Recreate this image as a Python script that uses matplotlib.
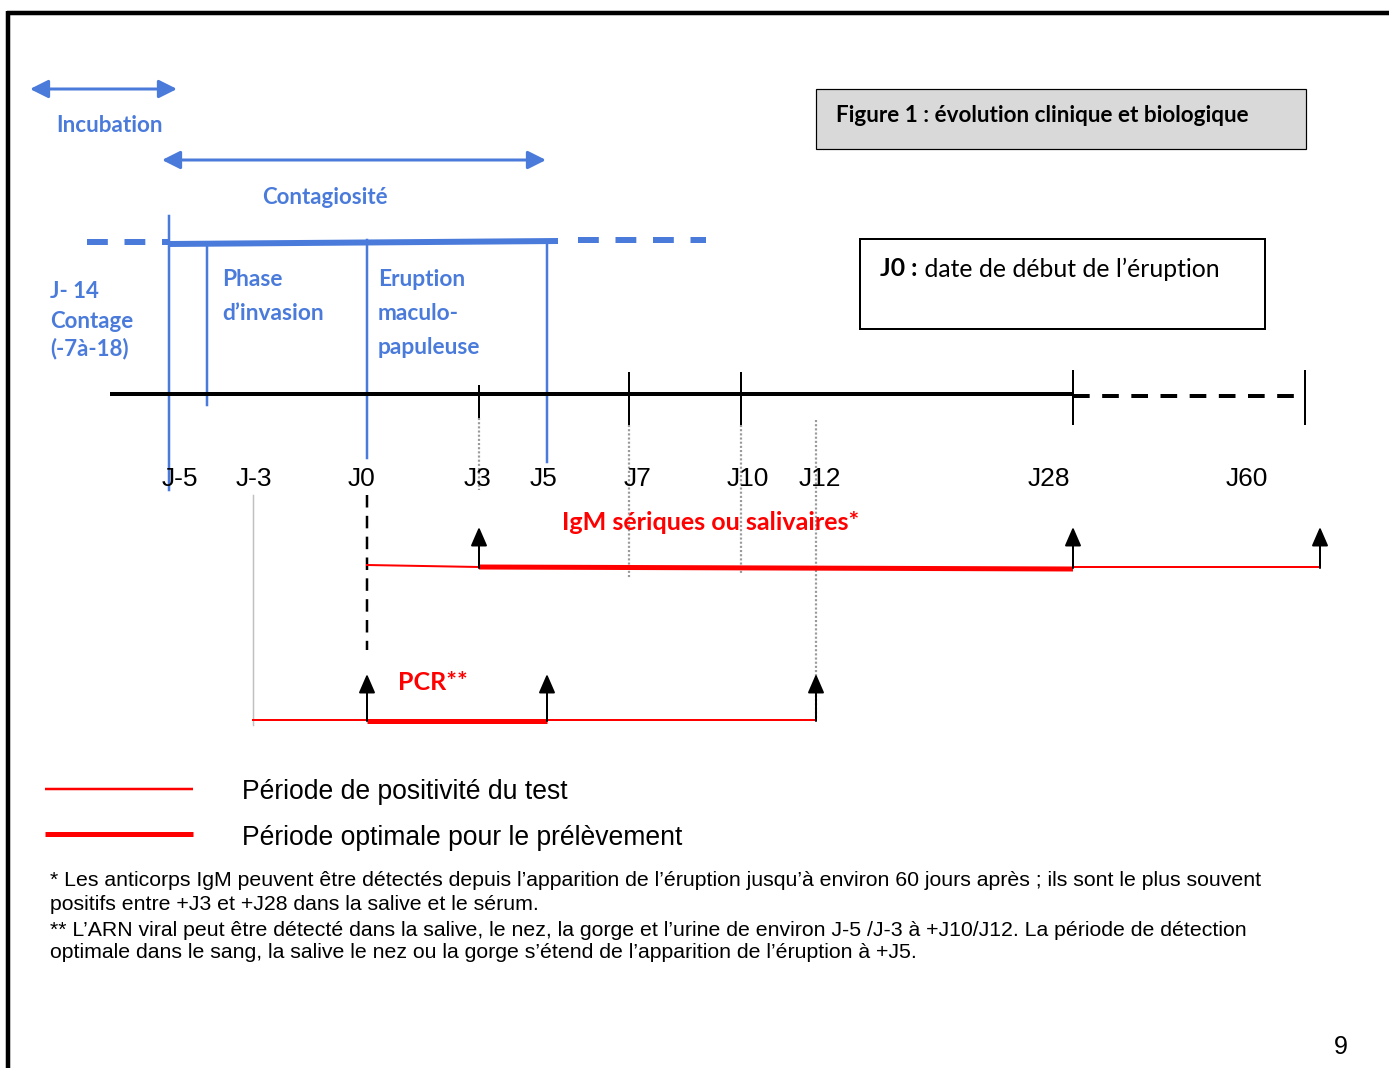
import numpy as np
import matplotlib
matplotlib.use('Agg')
import matplotlib.pyplot as plt
from matplotlib.patches import Rectangle

plt.rcParams['lines.scale_dashes'] = False

# --- data -------------------------------------------------------------
day_labels = ['J-5', 'J-3', 'J0', 'J3', 'J5', 'J7', 'J10', 'J12', 'J28', 'J60']
tick_days = [3, 7, 10, 28, 60]          # black tick marks on the time line
guide_days = [3, 7, 10, 12]              # grey dotted guides
incubation = (-14, -5)
contagiosite = (-5, 5)
phase_starts = [-5, -4, 0, 5]            # blue vertical separators
igm_positive = (0, 60)
igm_optimal = (3, 28)
igm_marks = [3, 28, 60]
pcr_positive = (-3, 12)
pcr_optimal = (0, 5)
pcr_marks = [0, 5, 12]

legend_labels = ['Période de positivité du test', 'Période optimale pour le prélèvement']
notes = [
    "* Les anticorps IgM peuvent être détectés depuis l\u2019apparition de l\u2019éruption jusqu\u2019à environ 60 jours après ; ils sont le plus souvent",
    "positifs entre +J3 et +J28 dans la salive et le sérum.",
    "** L\u2019ARN viral peut être détecté dans la salive, le nez, la gorge et l\u2019urine de environ J-5 /J-3 à +J10/J12. La période de détection",
    "optimale dans le sang, la salive le nez ou la gorge s\u2019étend de l\u2019apparition de l\u2019éruption à +J5.",
]

# --- layout (schematic, non linear time axis) ---------------------------
day_px = {-14: 30, -5: 169, -4: 207, -3: 253, 0: 367, 3: 479, 5: 547,
          7: 629, 10: 741, 12: 816, 28: 1073, 60: 1305}
label_px = [180, 254, 362, 478, 543, 638, 748, 820, 1049, 1247]
test_px = dict(day_px)
test_px[60] = 1320
DY = 2  # text baseline nudge


def X(d):
    return day_px[d]


BLUE = '#4a7bdb'
RED = '#ff0000'
CAL = 'Lato'
ARIAL = 'Liberation Sans'
PX = 1 / 1.389  # pixel -> point

fig = plt.figure(figsize=(13.89, 10.68), dpi=100)
ax = fig.add_axes([0, 0, 1, 1])
ax.set_xlim(0, 1389)
ax.set_ylim(1068, 0)
ax.axis('off')

# page frame
ax.plot([7, 1389], [13, 13], color='black', lw=4.5 * PX, solid_capstyle='butt')
ax.plot([8, 8], [11, 1068], color='black', lw=4.5 * PX, solid_capstyle='butt')

# double arrows
def darrow(x0, x1, y):
    ax.annotate('', xy=(x1, y), xytext=(x0, y),
                arrowprops=dict(arrowstyle='<|-|>,head_width=0.55,head_length=1.1',
                                color=BLUE, lw=3 * PX, shrinkA=0, shrinkB=0,
                                mutation_scale=10))

darrow(X(incubation[0]), 177, 89)
ax.text(56, 124 + DY, 'Incubation', color=BLUE, fontsize=16.2, fontweight='bold',
        family=CAL, va='center')
darrow(162, X(contagiosite[1]) - 1, 160)
ax.text(325, 195 + DY, 'Contagiosité', color=BLUE, fontsize=16, fontweight='bold',
        family=CAL, va='center', ha='center')

# contagiosity bar
ax.plot([87, X(-5)], [242, 242], color=BLUE, lw=6 * PX, dashes=(15, 12))
ax.plot([X(-5), 558], [244, 241], color=BLUE, lw=6 * PX, solid_capstyle='butt')
ax.plot([578, 706], [240, 240], color=BLUE, lw=6 * PX, dashes=(15, 12))

# phase separators
sep_y = {-5: (216, 490), -4: (243, 405), 0: (240, 458), 5: (243, 462)}
for d in phase_starts:
    ax.plot([X(d), X(d)], sep_y[d], color=BLUE, lw=2.5 * PX)

for i, t in enumerate(['J- 14', 'Contage', '(-7à-18)']):
    ax.text(50, [289, 319, 347][i] + DY, t, color=BLUE, fontsize=16,
            fontweight='bold', family=CAL, va='center')
for i, t in enumerate(['Phase', 'd\u2019invasion']):
    ax.text(222, 277 + 34 * i + DY, t, color=BLUE, fontsize=16.4,
            fontweight='bold', family=CAL, va='center')
for i, t in enumerate(['Eruption', 'maculo-', 'papuleuse']):
    ax.text(378, 277 + 34 * i + DY, t, color=BLUE, fontsize=16.4,
            fontweight='bold', family=CAL, va='center')

# time line
ax.plot([110, X(28)], [394, 394], color='black', lw=4 * PX, solid_capstyle='butt')
ax.plot([X(28), X(60)], [396, 396], color='black', lw=4 * PX, dashes=(12, 9))
tick_y = {3: (386, 418), 7: (373, 425), 10: (373, 425), 28: (371, 424), 60: (371, 424)}
for d in tick_days:
    ax.plot([X(d), X(d)], tick_y[d], color='black', lw=2 * PX)

guide_y = {3: (418, 490), 7: (425, 578), 10: (425, 575), 12: (420, 720)}
for d in guide_days:
    ax.plot([X(d), X(d)], guide_y[d], color='#9a9a9a', lw=2.2 * PX, dashes=(1.5, 1.5))

for lab, xl in zip(day_labels, label_px):
    ax.text(xl, 477 + DY, lab, fontsize=19, family=ARIAL, ha='center', va='center')

ax.plot([X(-3), X(-3)], [495, 725], color='#c0c0c0', lw=1.5 * PX)
ax.plot([X(0), X(0)], [495, 650], color='black', lw=2.5 * PX, dashes=(9, 6))

# tests
def up_arrow(x, y0, y1):
    ax.annotate('', xy=(x, y1), xytext=(x, y0),
                arrowprops=dict(arrowstyle='-|>,head_width=0.5,head_length=1.15',
                                color='black', lw=2 * PX, shrinkA=0, shrinkB=0,
                                mutation_scale=10))

# IgM
ax.plot([test_px[igm_positive[0]], test_px[igm_optimal[0]]], [565, 567], color=RED, lw=2 * PX)
ax.plot([test_px[igm_optimal[0]], test_px[igm_optimal[1]]], [567, 569], color=RED,
        lw=5 * PX, solid_capstyle='butt')
ax.plot([test_px[igm_optimal[1]], test_px[igm_positive[1]]], [567, 567], color=RED, lw=2 * PX)
for d in igm_marks:
    up_arrow(test_px[d], 568, 527)
ax.text(562, 521 + DY, 'IgM sériques ou salivaires*', color=RED, fontsize=18,
        fontweight='bold', family=CAL, va='center')

# PCR
ax.plot([test_px[pcr_positive[0]], test_px[pcr_optimal[0]]], [720, 720], color=RED, lw=2 * PX)
ax.plot([test_px[pcr_optimal[0]], test_px[pcr_optimal[1]]], [721, 721], color=RED,
        lw=5 * PX, solid_capstyle='butt')
ax.plot([test_px[pcr_optimal[1]] + 2, test_px[pcr_positive[1]]], [720, 720], color=RED, lw=2 * PX)
for d in pcr_marks:
    up_arrow(test_px[d], 721, 674)
ax.text(398, 680 + DY, 'PCR**', color=RED, fontsize=18, fontweight='bold',
        family=CAL, va='center')

# boxes
ax.add_patch(Rectangle((816, 89), 490, 60, facecolor='#d9d9d9', edgecolor='black', lw=1.2 * PX))
ax.text(836, 114 + DY, 'Figure 1 : évolution clinique et biologique', fontsize=16.2,
        fontweight='bold', family=CAL, va='center')
ax.add_patch(Rectangle((860, 239), 405, 90, facecolor='white', edgecolor='black', lw=2 * PX))
t0 = ax.text(880, 267 + DY, 'J0 :', fontsize=17.8, fontweight='bold', family=CAL, va='center')
ax.annotate(' date de début de l\u2019éruption', xycoords=t0, xy=(1, 0.5),
            fontsize=17.8, family=CAL, va='center')

# legend
ax.plot([45, 193], [789, 789], color=RED, lw=2.5 * PX, solid_capstyle='butt')
ax.plot([45, 193], [834, 834], color=RED, lw=5 * PX, solid_capstyle='butt')
ax.text(242, 790 + DY, legend_labels[0], fontsize=19.1, family=ARIAL, va='center')
ax.text(242, 836 + DY, legend_labels[1], fontsize=19.1, family=ARIAL, va='center')

for i, line in enumerate(notes):
    ax.text(50, [879, 903, 928, 951][i] + DY, line, fontsize=15.3, family=ARIAL, va='center')

ax.text(1341, 1045 + DY, '9', fontsize=18, family=ARIAL, ha='center', va='center')

fig.savefig('out.png', dpi=100)
